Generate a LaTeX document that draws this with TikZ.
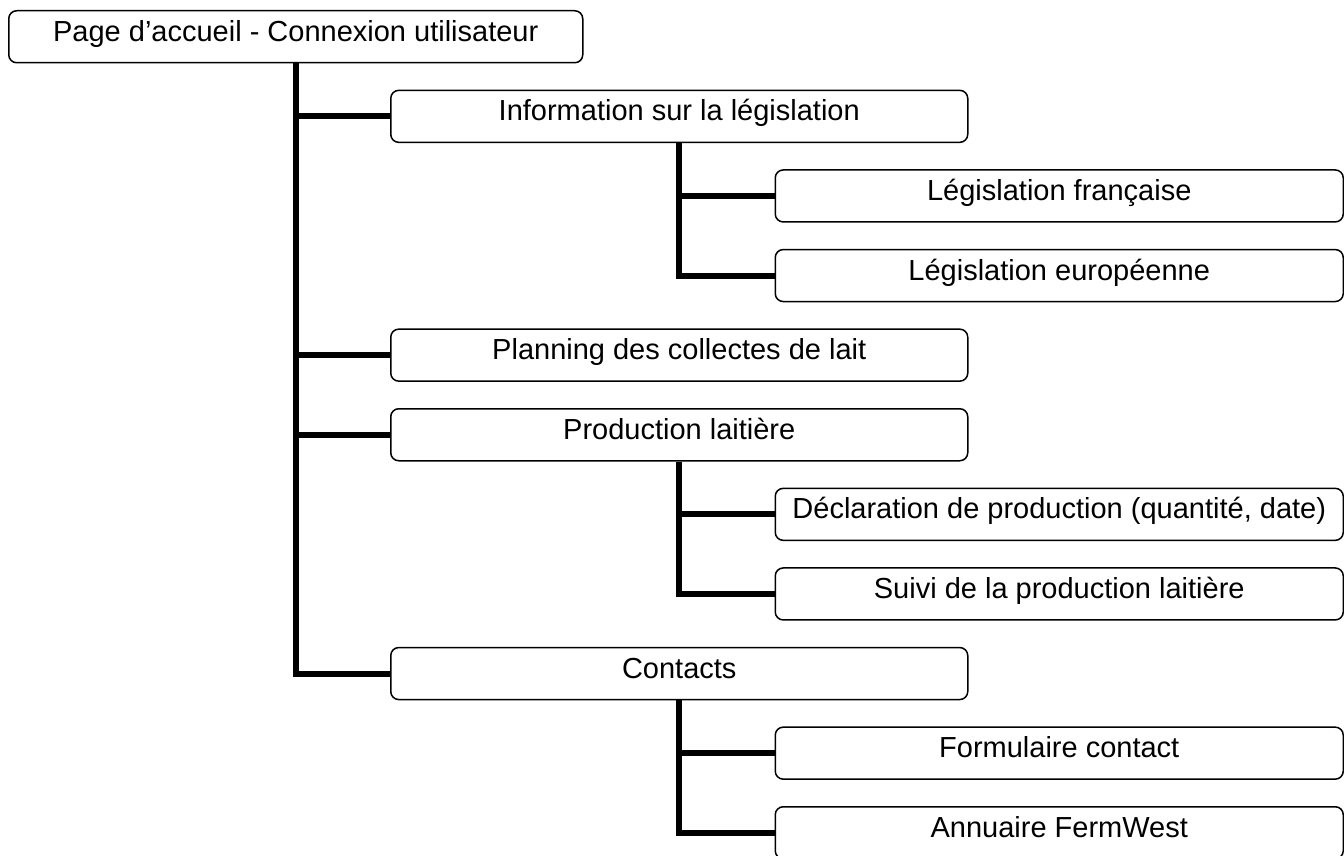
\documentclass[tikz,border=0pt]{standalone}
\usepackage{fontspec}
\setmainfont{Liberation Sans}
\begin{document}
\begin{tikzpicture}[x=1pt,y=-1pt,
  boxa/.style={draw, line width=1.5pt, rounded corners=8pt, anchor=north west,
     minimum height=52pt, inner sep=0pt, text height=20pt, text depth=11pt,
     font=\fontsize{29}{34}\selectfont},
  rootbox/.style={boxa, minimum width=574pt},
  lvla/.style={boxa, minimum width=577pt},
  lvlb/.style={boxa, minimum width=568pt},
  conn/.style={line width=6pt, line join=miter}]
\useasboundingbox (0,0) rectangle (1344,856);
\node[rootbox] (root) at (8,10) {Page d’accueil - Connexion utilisateur};
\node[lvla] (info) at (390,89.6) {Information sur la législation};
\node[lvlb] (lf) at (774.5,169.2) {Législation française};
\node[lvlb] (le) at (774.5,248.8) {Législation européenne};
\node[lvla] (plan) at (390,328.4) {Planning des collectes de lait};
\node[lvla] (prod) at (390,408) {Production laitière};
\node[lvlb] (decl) at (774.5,487.6) {Déclaration de production (quantité, date)};
\node[lvlb] (suivi) at (774.5,567.2) {Suivi de la production laitière};
\node[lvla] (cont) at (390,646.8) {Contacts};
\node[lvlb] (form) at (774.5,726.4) {Formulaire contact};
\node[lvlb] (annu) at (774.5,806) {Annuaire FermWest};
\draw[conn] (root.south) |- (info.west);
\draw[conn] (root.south) |- (plan.west);
\draw[conn] (root.south) |- (prod.west);
\draw[conn] (root.south) |- (cont.west);
\draw[conn] (info.south) |- (lf.west);
\draw[conn] (info.south) |- (le.west);
\draw[conn] (prod.south) |- (decl.west);
\draw[conn] (prod.south) |- (suivi.west);
\draw[conn] (cont.south) |- (form.west);
\draw[conn] (cont.south) |- (annu.west);
\end{tikzpicture}
\end{document}
